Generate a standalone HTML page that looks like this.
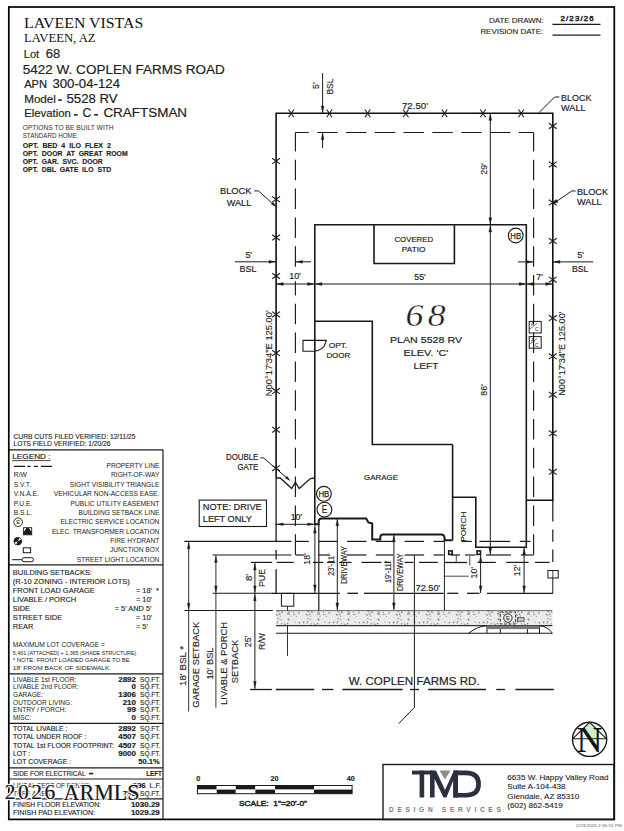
<!DOCTYPE html>
<html><head><meta charset="utf-8"><style>
html,body{margin:0;padding:0;background:#fff;}
#c{position:relative;width:624px;height:831px;overflow:hidden;background:#fff;}
svg{position:absolute;left:0;top:0;}
</style></head><body><div id="c">
<svg width="624" height="831" viewBox="0 0 624 831">
<defs><pattern id="stip" width="30" height="15" patternUnits="userSpaceOnUse">
<rect width="30" height="15" fill="#ececec"/>
<circle cx="7.1" cy="8.2" r="0.7" fill="#aaa"/>
<circle cx="14.2" cy="8.7" r="0.5" fill="#999"/>
<circle cx="7.8" cy="3.5" r="0.8" fill="#aaa"/>
<circle cx="25.1" cy="7.1" r="0.6" fill="#777"/>
<circle cx="19.0" cy="13.0" r="0.8" fill="#666"/>
<circle cx="20.1" cy="1.0" r="0.5" fill="#888"/>
<circle cx="23.4" cy="12.4" r="0.7" fill="#999"/>
<circle cx="17.8" cy="13.8" r="0.8" fill="#999"/>
<circle cx="11.8" cy="12.0" r="0.8" fill="#777"/>
<circle cx="26.4" cy="1.5" r="0.6" fill="#999"/>
<circle cx="6.5" cy="14.5" r="0.8" fill="#888"/>
<circle cx="12.6" cy="12.5" r="0.7" fill="#aaa"/>
<circle cx="17.6" cy="8.8" r="0.7" fill="#666"/>
<circle cx="25.7" cy="14.9" r="0.6" fill="#888"/>
<circle cx="28.9" cy="13.6" r="0.5" fill="#777"/>
<circle cx="19.0" cy="14.8" r="0.7" fill="#888"/>
<circle cx="3.7" cy="7.2" r="0.8" fill="#666"/>
<circle cx="10.3" cy="1.0" r="0.6" fill="#666"/>
<circle cx="8.8" cy="11.5" r="0.5" fill="#666"/>
<circle cx="18.1" cy="11.4" r="0.8" fill="#aaa"/>
<circle cx="9.9" cy="13.2" r="0.7" fill="#aaa"/>
<circle cx="7.1" cy="0.5" r="0.5" fill="#666"/>
<circle cx="3.2" cy="8.0" r="0.6" fill="#999"/>
<circle cx="8.7" cy="4.0" r="0.5" fill="#888"/>
<circle cx="9.4" cy="14.4" r="0.8" fill="#999"/>
<circle cx="13.8" cy="7.8" r="0.5" fill="#aaa"/>
<circle cx="29.2" cy="12.2" r="0.7" fill="#999"/>
<circle cx="19.0" cy="10.7" r="0.7" fill="#999"/>
<circle cx="29.3" cy="7.8" r="0.7" fill="#666"/>
<circle cx="23.7" cy="14.8" r="0.7" fill="#666"/>
<circle cx="11.3" cy="8.8" r="0.6" fill="#666"/>
<circle cx="19.0" cy="5.0" r="0.7" fill="#888"/>
<circle cx="18.3" cy="4.2" r="0.8" fill="#666"/>
<circle cx="17.7" cy="14.3" r="0.5" fill="#888"/>
<circle cx="7.5" cy="6.8" r="0.7" fill="#777"/>
<circle cx="10.9" cy="4.7" r="0.7" fill="#aaa"/>
<circle cx="7.9" cy="11.8" r="0.5" fill="#666"/>
<circle cx="29.1" cy="10.3" r="0.6" fill="#888"/>
<circle cx="15.0" cy="9.8" r="0.7" fill="#777"/>
<circle cx="9.8" cy="10.2" r="0.5" fill="#666"/></pattern></defs>
<rect x="8.8" y="7.0" width="605.5" height="812.4" stroke="#000" stroke-width="1.7" fill="none"/>
<text x="24.0" y="27.8" font-family="Liberation Serif" font-size="14.4" font-weight="normal" font-style="normal" text-anchor="start" fill="#111" style="white-space:pre" textLength="119.3" lengthAdjust="spacingAndGlyphs">LAVEEN VISTAS</text>
<text x="24.0" y="42.4" font-family="Liberation Serif" font-size="11.8" font-weight="normal" font-style="normal" text-anchor="start" fill="#111" style="white-space:pre" textLength="71.6" lengthAdjust="spacingAndGlyphs">LAVEEN, AZ</text>
<text x="23.8" y="58.0" font-family="Liberation Sans" font-size="11.2" font-weight="normal" font-style="normal" text-anchor="start" fill="#222" style="white-space:pre" textLength="15.3" lengthAdjust="spacingAndGlyphs" stroke="#222" stroke-width="0.18">Lot</text>
<text x="45.8" y="58.0" font-family="Liberation Sans" font-size="12.9" font-weight="normal" font-style="normal" text-anchor="start" fill="#222" style="white-space:pre" textLength="14.4" lengthAdjust="spacingAndGlyphs" stroke="#222" stroke-width="0.18">68</text>
<text x="22.8" y="73.7" font-family="Liberation Sans" font-size="13.4" font-weight="normal" font-style="normal" text-anchor="start" fill="#222" style="white-space:pre" textLength="202" lengthAdjust="spacingAndGlyphs" stroke="#222" stroke-width="0.18">5422 W. COPLEN FARMS ROAD</text>
<text x="24.2" y="87.7" font-family="Liberation Sans" font-size="10.8" font-weight="normal" font-style="normal" text-anchor="start" fill="#222" style="white-space:pre" textLength="22.9" lengthAdjust="spacingAndGlyphs" stroke="#222" stroke-width="0.18">APN</text>
<text x="52.4" y="87.7" font-family="Liberation Sans" font-size="13.0" font-weight="normal" font-style="normal" text-anchor="start" fill="#222" style="white-space:pre" textLength="67.6" lengthAdjust="spacingAndGlyphs" stroke="#222" stroke-width="0.18">300-04-124</text>
<text x="24.2" y="102.7" font-family="Liberation Sans" font-size="11.2" font-weight="normal" font-style="normal" text-anchor="start" fill="#222" style="white-space:pre" textLength="31.7" lengthAdjust="spacingAndGlyphs" stroke="#222" stroke-width="0.18">Model</text>
<rect x="58.2" y="99.3" width="3.5" height="1.6" stroke="#1a1a1a" stroke-width="0" fill="#222"/>
<text x="66.5" y="102.7" font-family="Liberation Sans" font-size="13.0" font-weight="normal" font-style="normal" text-anchor="start" fill="#222" style="white-space:pre" textLength="51.1" lengthAdjust="spacingAndGlyphs" stroke="#222" stroke-width="0.18">5528 RV</text>
<text x="24.2" y="117.3" font-family="Liberation Sans" font-size="11.2" font-weight="normal" font-style="normal" text-anchor="start" fill="#222" style="white-space:pre" textLength="46.7" lengthAdjust="spacingAndGlyphs" stroke="#222" stroke-width="0.18">Elevation</text>
<rect x="74.0" y="114.0" width="3.6" height="1.6" stroke="#1a1a1a" stroke-width="0" fill="#222"/>
<text x="82.4" y="117.3" font-family="Liberation Sans" font-size="13.0" font-weight="normal" font-style="normal" text-anchor="start" fill="#222" style="white-space:pre" textLength="8.8" lengthAdjust="spacingAndGlyphs" stroke="#222" stroke-width="0.18">C</text>
<rect x="94.2" y="114.0" width="3.8" height="1.6" stroke="#1a1a1a" stroke-width="0" fill="#222"/>
<text x="103.4" y="117.3" font-family="Liberation Sans" font-size="13.0" font-weight="normal" font-style="normal" text-anchor="start" fill="#222" style="white-space:pre" textLength="83.7" lengthAdjust="spacingAndGlyphs" stroke="#222" stroke-width="0.18">CRAFTSMAN</text>
<text x="22.7" y="130.0" font-family="Liberation Sans" font-size="6.4" font-weight="normal" font-style="normal" text-anchor="start" fill="#333" style="white-space:pre" textLength="91" lengthAdjust="spacingAndGlyphs">OPTIONS TO BE BUILT WITH</text>
<text x="22.7" y="138.0" font-family="Liberation Sans" font-size="6.4" font-weight="normal" font-style="normal" text-anchor="start" fill="#333" style="white-space:pre" textLength="56" lengthAdjust="spacingAndGlyphs">STANDARD HOME:</text>
<text x="22.7" y="148.0" font-family="Liberation Sans" font-size="7.0" font-weight="bold" font-style="normal" text-anchor="start" fill="#222" style="white-space:pre" textLength="88.3" lengthAdjust="spacingAndGlyphs" stroke="#222" stroke-width="0.12">OPT.  BED  4  ILO  FLEX  2</text>
<text x="22.7" y="156.0" font-family="Liberation Sans" font-size="7.0" font-weight="bold" font-style="normal" text-anchor="start" fill="#222" style="white-space:pre" textLength="105" lengthAdjust="spacingAndGlyphs" stroke="#222" stroke-width="0.12">OPT.  DOOR  AT  GREAT  ROOM</text>
<text x="22.7" y="164.0" font-family="Liberation Sans" font-size="7.0" font-weight="bold" font-style="normal" text-anchor="start" fill="#222" style="white-space:pre" textLength="80" lengthAdjust="spacingAndGlyphs" stroke="#222" stroke-width="0.12">OPT.  GAR.  SVC.  DOOR</text>
<text x="22.7" y="172.0" font-family="Liberation Sans" font-size="7.0" font-weight="bold" font-style="normal" text-anchor="start" fill="#222" style="white-space:pre" textLength="88.5" lengthAdjust="spacingAndGlyphs" stroke="#222" stroke-width="0.12">OPT.  DBL  GATE  ILO  STD</text>
<text x="543.8" y="23.2" font-family="Liberation Sans" font-size="7.6" font-weight="normal" font-style="normal" text-anchor="end" fill="#222" style="white-space:pre" textLength="54.8" lengthAdjust="spacingAndGlyphs" stroke="#222" stroke-width="0.12">DATE DRAWN:</text>
<text x="543.2" y="34.0" font-family="Liberation Sans" font-size="7.6" font-weight="normal" font-style="normal" text-anchor="end" fill="#222" style="white-space:pre" textLength="62.8" lengthAdjust="spacingAndGlyphs" stroke="#222" stroke-width="0.12">REVISION DATE:</text>
<text x="560.5" y="21.4" font-family="Liberation Sans" font-size="7.8" font-weight="normal" font-style="normal" text-anchor="start" fill="#222" style="white-space:pre" textLength="33.1" lengthAdjust="spacing" stroke="#222" stroke-width="0.5">2/23/26</text>
<line x1="552.5" y1="24.3" x2="600.5" y2="24.3" stroke="#1a1a1a" stroke-width="1.3" stroke-linecap="butt"/>
<line x1="552.5" y1="35.1" x2="600.5" y2="35.1" stroke="#1a1a1a" stroke-width="1.3" stroke-linecap="butt"/>
<polyline points="276.1,478.0 276.1,113.2 552.8,113.2 552.8,500.3 526.3,500.3" stroke="#111" stroke-width="1.6" fill="none" stroke-linejoin="miter"/>
<line x1="276.1" y1="478.0" x2="276.1" y2="541.2" stroke="#1a1a1a" stroke-width="1.3" stroke-linecap="butt"/>
<line x1="276.1" y1="550.0" x2="276.1" y2="559.6" stroke="#1a1a1a" stroke-width="1.3" stroke-linecap="butt"/>
<line x1="276.1" y1="569.2" x2="276.1" y2="593.3" stroke="#1a1a1a" stroke-width="1.3" stroke-linecap="butt"/>
<line x1="552.8" y1="500.3" x2="552.8" y2="521.6" stroke="#1a1a1a" stroke-width="1.2" stroke-linecap="butt"/>
<line x1="552.8" y1="529.5" x2="552.8" y2="541.8" stroke="#1a1a1a" stroke-width="1.2" stroke-linecap="butt"/>
<line x1="552.8" y1="549.6" x2="552.8" y2="562.0" stroke="#1a1a1a" stroke-width="1.2" stroke-linecap="butt"/>
<line x1="288.5" y1="109.5" x2="293.9" y2="117.3" stroke="#1a1a1a" stroke-width="1.1" stroke-linecap="butt"/>
<line x1="288.5" y1="117.3" x2="293.9" y2="109.5" stroke="#1a1a1a" stroke-width="1.1" stroke-linecap="butt"/>
<line x1="326.7" y1="109.5" x2="332.1" y2="117.3" stroke="#1a1a1a" stroke-width="1.1" stroke-linecap="butt"/>
<line x1="326.7" y1="117.3" x2="332.1" y2="109.5" stroke="#1a1a1a" stroke-width="1.1" stroke-linecap="butt"/>
<line x1="364.9" y1="109.5" x2="370.3" y2="117.3" stroke="#1a1a1a" stroke-width="1.1" stroke-linecap="butt"/>
<line x1="364.9" y1="117.3" x2="370.3" y2="109.5" stroke="#1a1a1a" stroke-width="1.1" stroke-linecap="butt"/>
<line x1="403.1" y1="109.5" x2="408.5" y2="117.3" stroke="#1a1a1a" stroke-width="1.1" stroke-linecap="butt"/>
<line x1="403.1" y1="117.3" x2="408.5" y2="109.5" stroke="#1a1a1a" stroke-width="1.1" stroke-linecap="butt"/>
<line x1="441.8" y1="109.5" x2="447.2" y2="117.3" stroke="#1a1a1a" stroke-width="1.1" stroke-linecap="butt"/>
<line x1="441.8" y1="117.3" x2="447.2" y2="109.5" stroke="#1a1a1a" stroke-width="1.1" stroke-linecap="butt"/>
<line x1="480.3" y1="109.5" x2="485.7" y2="117.3" stroke="#1a1a1a" stroke-width="1.1" stroke-linecap="butt"/>
<line x1="480.3" y1="117.3" x2="485.7" y2="109.5" stroke="#1a1a1a" stroke-width="1.1" stroke-linecap="butt"/>
<line x1="518.5" y1="109.5" x2="523.9" y2="117.3" stroke="#1a1a1a" stroke-width="1.1" stroke-linecap="butt"/>
<line x1="518.5" y1="117.3" x2="523.9" y2="109.5" stroke="#1a1a1a" stroke-width="1.1" stroke-linecap="butt"/>
<line x1="272.2" y1="158.3" x2="280.0" y2="163.9" stroke="#1a1a1a" stroke-width="1.1" stroke-linecap="butt"/>
<line x1="272.2" y1="163.9" x2="280.0" y2="158.3" stroke="#1a1a1a" stroke-width="1.1" stroke-linecap="butt"/>
<line x1="272.2" y1="196.5" x2="280.0" y2="202.1" stroke="#1a1a1a" stroke-width="1.1" stroke-linecap="butt"/>
<line x1="272.2" y1="202.1" x2="280.0" y2="196.5" stroke="#1a1a1a" stroke-width="1.1" stroke-linecap="butt"/>
<line x1="272.2" y1="234.7" x2="280.0" y2="240.3" stroke="#1a1a1a" stroke-width="1.1" stroke-linecap="butt"/>
<line x1="272.2" y1="240.3" x2="280.0" y2="234.7" stroke="#1a1a1a" stroke-width="1.1" stroke-linecap="butt"/>
<line x1="272.2" y1="273.2" x2="280.0" y2="278.8" stroke="#1a1a1a" stroke-width="1.1" stroke-linecap="butt"/>
<line x1="272.2" y1="278.8" x2="280.0" y2="273.2" stroke="#1a1a1a" stroke-width="1.1" stroke-linecap="butt"/>
<line x1="272.2" y1="311.6" x2="280.0" y2="317.2" stroke="#1a1a1a" stroke-width="1.1" stroke-linecap="butt"/>
<line x1="272.2" y1="317.2" x2="280.0" y2="311.6" stroke="#1a1a1a" stroke-width="1.1" stroke-linecap="butt"/>
<line x1="272.2" y1="350.3" x2="280.0" y2="355.9" stroke="#1a1a1a" stroke-width="1.1" stroke-linecap="butt"/>
<line x1="272.2" y1="355.9" x2="280.0" y2="350.3" stroke="#1a1a1a" stroke-width="1.1" stroke-linecap="butt"/>
<line x1="272.2" y1="388.3" x2="280.0" y2="393.9" stroke="#1a1a1a" stroke-width="1.1" stroke-linecap="butt"/>
<line x1="272.2" y1="393.9" x2="280.0" y2="388.3" stroke="#1a1a1a" stroke-width="1.1" stroke-linecap="butt"/>
<line x1="272.2" y1="426.9" x2="280.0" y2="432.5" stroke="#1a1a1a" stroke-width="1.1" stroke-linecap="butt"/>
<line x1="272.2" y1="432.5" x2="280.0" y2="426.9" stroke="#1a1a1a" stroke-width="1.1" stroke-linecap="butt"/>
<line x1="272.2" y1="465.4" x2="280.0" y2="471.0" stroke="#1a1a1a" stroke-width="1.1" stroke-linecap="butt"/>
<line x1="272.2" y1="471.0" x2="280.0" y2="465.4" stroke="#1a1a1a" stroke-width="1.1" stroke-linecap="butt"/>
<line x1="548.9" y1="123.2" x2="556.7" y2="128.8" stroke="#1a1a1a" stroke-width="1.1" stroke-linecap="butt"/>
<line x1="548.9" y1="128.8" x2="556.7" y2="123.2" stroke="#1a1a1a" stroke-width="1.1" stroke-linecap="butt"/>
<line x1="548.9" y1="161.6" x2="556.7" y2="167.2" stroke="#1a1a1a" stroke-width="1.1" stroke-linecap="butt"/>
<line x1="548.9" y1="167.2" x2="556.7" y2="161.6" stroke="#1a1a1a" stroke-width="1.1" stroke-linecap="butt"/>
<line x1="548.9" y1="199.8" x2="556.7" y2="205.4" stroke="#1a1a1a" stroke-width="1.1" stroke-linecap="butt"/>
<line x1="548.9" y1="205.4" x2="556.7" y2="199.8" stroke="#1a1a1a" stroke-width="1.1" stroke-linecap="butt"/>
<line x1="548.9" y1="238.3" x2="556.7" y2="243.9" stroke="#1a1a1a" stroke-width="1.1" stroke-linecap="butt"/>
<line x1="548.9" y1="243.9" x2="556.7" y2="238.3" stroke="#1a1a1a" stroke-width="1.1" stroke-linecap="butt"/>
<line x1="548.9" y1="276.9" x2="556.7" y2="282.5" stroke="#1a1a1a" stroke-width="1.1" stroke-linecap="butt"/>
<line x1="548.9" y1="282.5" x2="556.7" y2="276.9" stroke="#1a1a1a" stroke-width="1.1" stroke-linecap="butt"/>
<line x1="548.9" y1="315.3" x2="556.7" y2="320.9" stroke="#1a1a1a" stroke-width="1.1" stroke-linecap="butt"/>
<line x1="548.9" y1="320.9" x2="556.7" y2="315.3" stroke="#1a1a1a" stroke-width="1.1" stroke-linecap="butt"/>
<line x1="548.9" y1="353.5" x2="556.7" y2="359.1" stroke="#1a1a1a" stroke-width="1.1" stroke-linecap="butt"/>
<line x1="548.9" y1="359.1" x2="556.7" y2="353.5" stroke="#1a1a1a" stroke-width="1.1" stroke-linecap="butt"/>
<line x1="548.9" y1="391.9" x2="556.7" y2="397.5" stroke="#1a1a1a" stroke-width="1.1" stroke-linecap="butt"/>
<line x1="548.9" y1="397.5" x2="556.7" y2="391.9" stroke="#1a1a1a" stroke-width="1.1" stroke-linecap="butt"/>
<line x1="548.9" y1="430.5" x2="556.7" y2="436.1" stroke="#1a1a1a" stroke-width="1.1" stroke-linecap="butt"/>
<line x1="548.9" y1="436.1" x2="556.7" y2="430.5" stroke="#1a1a1a" stroke-width="1.1" stroke-linecap="butt"/>
<line x1="548.9" y1="469.0" x2="556.7" y2="474.6" stroke="#1a1a1a" stroke-width="1.1" stroke-linecap="butt"/>
<line x1="548.9" y1="474.6" x2="556.7" y2="469.0" stroke="#1a1a1a" stroke-width="1.1" stroke-linecap="butt"/>
<line x1="295.4" y1="132.5" x2="295.4" y2="555.0" stroke="#1a1a1a" stroke-width="1.15" stroke-dasharray="20.5,8.3" stroke-dashoffset="1.5"/>
<line x1="533.6" y1="132.5" x2="533.6" y2="555.0" stroke="#1a1a1a" stroke-width="1.15" stroke-dasharray="20.5,8.3" stroke-dashoffset="1.5"/>
<line x1="295.4" y1="132.5" x2="533.6" y2="132.5" stroke="#1a1a1a" stroke-width="1.15" stroke-dasharray="20.5,8.3" stroke-dashoffset="7.1"/>
<polyline points="314.8,524.2 314.8,224.8 526.3,224.8 526.3,547.2 475.8,547.2 475.8,497.3 452.6,497.3" stroke="#1a1a1a" stroke-width="1.6" fill="none" stroke-linejoin="miter"/>
<line x1="452.6" y1="444.5" x2="452.6" y2="540.3" stroke="#1a1a1a" stroke-width="1.6" stroke-linecap="butt"/>
<polyline points="314.8,321.2 372.3,321.2 372.3,444.5 452.6,444.5" stroke="#1a1a1a" stroke-width="1.6" fill="none" stroke-linejoin="miter"/>
<polyline points="374.0,224.8 374.0,263.5 454.4,263.5 454.4,224.8" stroke="#1a1a1a" stroke-width="1.6" fill="none" stroke-linejoin="miter"/>
<path d="M314.8,524.2 L318.7,524.2 L318.7,521 Q318.9,518.6 321.5,518.5 L366.2,518.5 L368.4,522.4 L372.2,523.6 L372.2,539.4 L380.3,539.4 L380.3,537 Q380.6,534.6 383,534.6 L441.5,534.6 Q444.3,534.8 444.6,538 L444.6,540.3 L452.6,540.3" stroke="#1a1a1a" stroke-width="2.0" fill="none"/>
<path d="M314.8,340.4 L303.0,340.4 L303.0,351.2 L314.8,351.2 M314.8,340.4 L326.4,340.4 L324.2,346 Q321.5,350.2 314.8,351.2" stroke="#1a1a1a" stroke-width="1.1" fill="none"/>
<text transform="translate(405.6 326) scale(1.14 1)" x="0" y="0" font-family="Liberation Serif" font-style="italic" font-size="31.5" fill="#1a1a1a" stroke="#fff" stroke-width="0.35" letter-spacing="3.6">68</text>
<text x="426.0" y="343.4" font-family="Liberation Sans" font-size="9.7" font-weight="normal" font-style="normal" text-anchor="middle" fill="#222" style="white-space:pre" textLength="72" lengthAdjust="spacingAndGlyphs" stroke="#222" stroke-width="0.18">PLAN 5528 RV</text>
<text x="426.0" y="356.2" font-family="Liberation Sans" font-size="9.7" font-weight="normal" font-style="normal" text-anchor="middle" fill="#222" style="white-space:pre" textLength="44.8" lengthAdjust="spacingAndGlyphs" stroke="#222" stroke-width="0.18">ELEV. 'C'</text>
<text x="426.0" y="369.0" font-family="Liberation Sans" font-size="9.7" font-weight="normal" font-style="normal" text-anchor="middle" fill="#222" style="white-space:pre" textLength="25" lengthAdjust="spacingAndGlyphs" stroke="#222" stroke-width="0.18">LEFT</text>
<text x="413.8" y="241.7" font-family="Liberation Sans" font-size="7.8" font-weight="normal" font-style="normal" text-anchor="middle" fill="#222" style="white-space:pre" textLength="38.7" lengthAdjust="spacingAndGlyphs" stroke="#222" stroke-width="0.18">COVERED</text>
<text x="413.7" y="251.8" font-family="Liberation Sans" font-size="7.8" font-weight="normal" font-style="normal" text-anchor="middle" fill="#222" style="white-space:pre" textLength="23.7" lengthAdjust="spacingAndGlyphs" stroke="#222" stroke-width="0.18">PATIO</text>
<text x="381.0" y="479.5" font-family="Liberation Sans" font-size="7.9" font-weight="normal" font-style="normal" text-anchor="middle" fill="#222" style="white-space:pre" textLength="33.9" lengthAdjust="spacingAndGlyphs" stroke="#222" stroke-width="0.18">GARAGE</text>
<text x="328.8" y="347.6" font-family="Liberation Sans" font-size="7.8" font-weight="normal" font-style="normal" text-anchor="start" fill="#222" style="white-space:pre" textLength="18.5" lengthAdjust="spacingAndGlyphs" stroke="#222" stroke-width="0.18">OPT.</text>
<text x="326.4" y="357.6" font-family="Liberation Sans" font-size="7.8" font-weight="normal" font-style="normal" text-anchor="start" fill="#222" style="white-space:pre" textLength="23.8" lengthAdjust="spacingAndGlyphs" stroke="#222" stroke-width="0.18">DOOR</text>
<text x="466.0" y="526.6" font-family="Liberation Sans" font-size="7.6" font-weight="normal" font-style="normal" text-anchor="middle" fill="#222" style="white-space:pre" transform="rotate(-90 466.0 526.6)" textLength="30.3" lengthAdjust="spacingAndGlyphs" stroke="#222" stroke-width="0.12">PORCH</text>
<circle cx="515.7" cy="235.5" r="7.4" stroke="#1a1a1a" stroke-width="1.1" fill="none"/>
<text x="515.7" y="238.8" font-family="Liberation Sans" font-size="9.0" font-weight="normal" font-style="normal" text-anchor="middle" fill="#222" style="white-space:pre" textLength="10.8" lengthAdjust="spacingAndGlyphs" stroke="#222" stroke-width="0.25">HB</text>
<circle cx="323.9" cy="493.8" r="7.4" stroke="#1a1a1a" stroke-width="1.1" fill="none"/>
<text x="323.9" y="497.1" font-family="Liberation Sans" font-size="9.0" font-weight="normal" font-style="normal" text-anchor="middle" fill="#222" style="white-space:pre" textLength="10.8" lengthAdjust="spacingAndGlyphs" stroke="#222" stroke-width="0.25">HB</text>
<circle cx="324.4" cy="509.7" r="7.4" stroke="#1a1a1a" stroke-width="1.1" fill="none"/>
<text x="324.4" y="513.4" font-family="Liberation Sans" font-size="10.0" font-weight="normal" font-style="normal" text-anchor="middle" fill="#222" style="white-space:pre" textLength="5.5" lengthAdjust="spacingAndGlyphs" stroke="#222" stroke-width="0.18">E</text>
<rect x="529.2" y="321.4" width="12.0" height="11.6" stroke="#1a1a1a" stroke-width="1.0" fill="none"/>
<text x="531.0" y="326.4" font-family="Liberation Sans" font-size="4.5" font-weight="normal" font-style="normal" text-anchor="start" fill="#222" style="white-space:pre" textLength="3" lengthAdjust="spacingAndGlyphs">A</text>
<text x="535.0" y="331.4" font-family="Liberation Sans" font-size="5" font-weight="normal" font-style="normal" text-anchor="start" fill="#222" style="white-space:pre" textLength="3.5" lengthAdjust="spacingAndGlyphs">C</text>
<line x1="530.0" y1="328.9" x2="537.0" y2="323.4" stroke="#1a1a1a" stroke-width="0.6" stroke-linecap="butt"/>
<rect x="529.2" y="336.6" width="12.0" height="11.6" stroke="#1a1a1a" stroke-width="1.0" fill="none"/>
<text x="531.0" y="341.6" font-family="Liberation Sans" font-size="4.5" font-weight="normal" font-style="normal" text-anchor="start" fill="#222" style="white-space:pre" textLength="3" lengthAdjust="spacingAndGlyphs">A</text>
<text x="535.0" y="346.6" font-family="Liberation Sans" font-size="5" font-weight="normal" font-style="normal" text-anchor="start" fill="#222" style="white-space:pre" textLength="3.5" lengthAdjust="spacingAndGlyphs">C</text>
<line x1="530.0" y1="344.1" x2="537.0" y2="338.6" stroke="#1a1a1a" stroke-width="0.6" stroke-linecap="butt"/>
<text x="402.0" y="109.2" font-family="Liberation Sans" font-size="9.6" font-weight="normal" font-style="normal" text-anchor="start" fill="#222" style="white-space:pre" textLength="26" lengthAdjust="spacingAndGlyphs" stroke="#222" stroke-width="0.18">72.50'</text>
<line x1="322.6" y1="73.0" x2="322.6" y2="113.2" stroke="#1a1a1a" stroke-width="1.0" stroke-linecap="butt"/>
<polygon points="322.6,112.1 321.2,106.1 324.0,106.1" fill="#1a1a1a" stroke="#1a1a1a" stroke-width="0.4"/>
<line x1="322.6" y1="132.5" x2="322.6" y2="148.0" stroke="#1a1a1a" stroke-width="1.0" stroke-linecap="butt"/>
<polygon points="322.6,133.6 321.2,139.6 324.0,139.6" fill="#1a1a1a" stroke="#1a1a1a" stroke-width="0.4"/>
<text x="319.3" y="85.6" font-family="Liberation Sans" font-size="8.8" font-weight="normal" font-style="normal" text-anchor="middle" fill="#222" style="white-space:pre" transform="rotate(-90 319.3 85.6)" stroke="#222" stroke-width="0.12">5'</text>
<text x="332.8" y="86.5" font-family="Liberation Sans" font-size="8.8" font-weight="normal" font-style="normal" text-anchor="middle" fill="#222" style="white-space:pre" transform="rotate(-90 332.8 86.5)" textLength="16.2" lengthAdjust="spacingAndGlyphs" stroke="#222" stroke-width="0.12">BSL</text>
<line x1="490.3" y1="113.2" x2="490.3" y2="224.8" stroke="#1a1a1a" stroke-width="1.0" stroke-linecap="butt"/>
<polygon points="490.3,114.3 488.9,120.3 491.7,120.3" fill="#1a1a1a" stroke="#1a1a1a" stroke-width="0.4"/>
<polygon points="490.3,223.7 488.9,217.7 491.7,217.7" fill="#1a1a1a" stroke="#1a1a1a" stroke-width="0.4"/>
<text x="487.0" y="169.0" font-family="Liberation Sans" font-size="8.8" font-weight="normal" font-style="normal" text-anchor="middle" fill="#222" style="white-space:pre" transform="rotate(-90 487.0 169.0)" textLength="11.5" lengthAdjust="spacingAndGlyphs" stroke="#222" stroke-width="0.12">29'</text>
<line x1="490.3" y1="224.8" x2="490.3" y2="554.8" stroke="#1a1a1a" stroke-width="1.0" stroke-linecap="butt"/>
<polygon points="490.3,225.9 488.9,231.9 491.7,231.9" fill="#1a1a1a" stroke="#1a1a1a" stroke-width="0.4"/>
<polygon points="490.3,553.7 488.9,547.7 491.7,547.7" fill="#1a1a1a" stroke="#1a1a1a" stroke-width="0.4"/>
<text x="487.0" y="390.0" font-family="Liberation Sans" font-size="8.8" font-weight="normal" font-style="normal" text-anchor="middle" fill="#222" style="white-space:pre" transform="rotate(-90 487.0 390.0)" textLength="11.5" lengthAdjust="spacingAndGlyphs" stroke="#222" stroke-width="0.12">86'</text>
<line x1="235.0" y1="261.8" x2="276.1" y2="261.8" stroke="#1a1a1a" stroke-width="1.0" stroke-linecap="butt"/>
<polygon points="275.0,261.8 269.0,260.4 269.0,263.2" fill="#1a1a1a" stroke="#1a1a1a" stroke-width="0.4"/>
<text x="248.7" y="257.6" font-family="Liberation Sans" font-size="8.8" font-weight="normal" font-style="normal" text-anchor="middle" fill="#222" style="white-space:pre" stroke="#222" stroke-width="0.18">5'</text>
<text x="248.0" y="272.4" font-family="Liberation Sans" font-size="8.8" font-weight="normal" font-style="normal" text-anchor="middle" fill="#222" style="white-space:pre" textLength="16.9" lengthAdjust="spacingAndGlyphs" stroke="#222" stroke-width="0.18">BSL</text>
<line x1="295.4" y1="261.8" x2="311.0" y2="261.8" stroke="#1a1a1a" stroke-width="1.0" stroke-linecap="butt"/>
<polygon points="296.5,261.8 302.5,260.4 302.5,263.2" fill="#1a1a1a" stroke="#1a1a1a" stroke-width="0.4"/>
<line x1="552.8" y1="261.9" x2="593.2" y2="261.9" stroke="#1a1a1a" stroke-width="1.0" stroke-linecap="butt"/>
<polygon points="553.9,261.9 559.9,260.5 559.9,263.2" fill="#1a1a1a" stroke="#1a1a1a" stroke-width="0.4"/>
<text x="580.5" y="257.7" font-family="Liberation Sans" font-size="8.8" font-weight="normal" font-style="normal" text-anchor="middle" fill="#222" style="white-space:pre" stroke="#222" stroke-width="0.18">5'</text>
<text x="580.2" y="272.0" font-family="Liberation Sans" font-size="8.8" font-weight="normal" font-style="normal" text-anchor="middle" fill="#222" style="white-space:pre" textLength="16.5" lengthAdjust="spacingAndGlyphs" stroke="#222" stroke-width="0.18">BSL</text>
<line x1="518.0" y1="261.9" x2="533.6" y2="261.9" stroke="#1a1a1a" stroke-width="1.0" stroke-linecap="butt"/>
<polygon points="532.5,261.9 526.5,260.5 526.5,263.2" fill="#1a1a1a" stroke="#1a1a1a" stroke-width="0.4"/>
<line x1="276.1" y1="284.0" x2="552.8" y2="284.0" stroke="#1a1a1a" stroke-width="1.0" stroke-linecap="butt"/>
<polygon points="277.2,284.0 283.2,282.6 283.2,285.4" fill="#1a1a1a" stroke="#1a1a1a" stroke-width="0.4"/>
<polygon points="313.7,284.0 307.7,282.6 307.7,285.4" fill="#1a1a1a" stroke="#1a1a1a" stroke-width="0.4"/>
<polygon points="315.9,284.0 321.9,282.6 321.9,285.4" fill="#1a1a1a" stroke="#1a1a1a" stroke-width="0.4"/>
<polygon points="525.2,284.0 519.2,282.6 519.2,285.4" fill="#1a1a1a" stroke="#1a1a1a" stroke-width="0.4"/>
<polygon points="527.4,284.0 533.4,282.6 533.4,285.4" fill="#1a1a1a" stroke="#1a1a1a" stroke-width="0.4"/>
<polygon points="551.7,284.0 545.7,282.6 545.7,285.4" fill="#1a1a1a" stroke="#1a1a1a" stroke-width="0.4"/>
<rect x="289" y="271.5" width="12.5" height="9.8" fill="#fff"/>
<text x="295.0" y="278.7" font-family="Liberation Sans" font-size="8.8" font-weight="normal" font-style="normal" text-anchor="middle" fill="#222" style="white-space:pre" textLength="11.5" lengthAdjust="spacingAndGlyphs" stroke="#222" stroke-width="0.18">10'</text>
<text x="420.0" y="279.9" font-family="Liberation Sans" font-size="8.8" font-weight="normal" font-style="normal" text-anchor="middle" fill="#222" style="white-space:pre" textLength="11.5" lengthAdjust="spacingAndGlyphs" stroke="#222" stroke-width="0.18">55'</text>
<text x="539.6" y="279.7" font-family="Liberation Sans" font-size="8.8" font-weight="normal" font-style="normal" text-anchor="middle" fill="#222" style="white-space:pre" stroke="#222" stroke-width="0.18">7'</text>
<text x="271.8" y="353.2" font-family="Liberation Sans" font-size="9.2" font-weight="normal" font-style="normal" text-anchor="middle" fill="#222" style="white-space:pre" transform="rotate(-90 271.8 353.2)" textLength="86" lengthAdjust="spacingAndGlyphs" stroke="#222" stroke-width="0.12">N00°17'34"E 125.00'</text>
<text x="565.2" y="353.6" font-family="Liberation Sans" font-size="9.2" font-weight="normal" font-style="normal" text-anchor="middle" fill="#222" style="white-space:pre" transform="rotate(-90 565.2 353.6)" textLength="84.3" lengthAdjust="spacingAndGlyphs" stroke="#222" stroke-width="0.12">N00°17'34"E 125.00'</text>
<text x="251.3" y="194.1" font-family="Liberation Sans" font-size="8.8" font-weight="normal" font-style="normal" text-anchor="end" fill="#222" style="white-space:pre" textLength="31.3" lengthAdjust="spacingAndGlyphs" stroke="#222" stroke-width="0.18">BLOCK</text>
<text x="251.3" y="205.6" font-family="Liberation Sans" font-size="8.8" font-weight="normal" font-style="normal" text-anchor="end" fill="#222" style="white-space:pre" textLength="24.6" lengthAdjust="spacingAndGlyphs" stroke="#222" stroke-width="0.18">WALL</text>
<polyline points="254.2,190.9 258.5,190.9 275.4,206.2" stroke="#1a1a1a" stroke-width="1.0" fill="none" stroke-linejoin="miter"/>
<polygon points="275.6,206.3 271.3,204.3 273.2,202.2" fill="#1a1a1a" stroke="#1a1a1a" stroke-width="0.4"/>
<text x="561.0" y="100.5" font-family="Liberation Sans" font-size="8.8" font-weight="normal" font-style="normal" text-anchor="start" fill="#222" style="white-space:pre" textLength="30.4" lengthAdjust="spacingAndGlyphs" stroke="#222" stroke-width="0.18">BLOCK</text>
<text x="561.0" y="111.2" font-family="Liberation Sans" font-size="8.8" font-weight="normal" font-style="normal" text-anchor="start" fill="#222" style="white-space:pre" textLength="24.6" lengthAdjust="spacingAndGlyphs" stroke="#222" stroke-width="0.18">WALL</text>
<polyline points="559.3,97.0 554.6,97.0 539.0,112.6" stroke="#1a1a1a" stroke-width="1.0" fill="none" stroke-linejoin="miter"/>
<text x="577.0" y="194.8" font-family="Liberation Sans" font-size="8.8" font-weight="normal" font-style="normal" text-anchor="start" fill="#222" style="white-space:pre" textLength="31" lengthAdjust="spacingAndGlyphs" stroke="#222" stroke-width="0.18">BLOCK</text>
<text x="577.0" y="205.4" font-family="Liberation Sans" font-size="8.8" font-weight="normal" font-style="normal" text-anchor="start" fill="#222" style="white-space:pre" textLength="24.6" lengthAdjust="spacingAndGlyphs" stroke="#222" stroke-width="0.18">WALL</text>
<polyline points="575.6,191.0 571.7,191.0 553.5,203.5" stroke="#1a1a1a" stroke-width="1.0" fill="none" stroke-linejoin="miter"/>
<polygon points="553.5,203.6 556.4,199.9 558.0,202.2" fill="#1a1a1a" stroke="#1a1a1a" stroke-width="0.4"/>
<text x="258.3" y="460.4" font-family="Liberation Sans" font-size="8.6" font-weight="normal" font-style="normal" text-anchor="end" fill="#222" style="white-space:pre" textLength="32.3" lengthAdjust="spacingAndGlyphs" stroke="#222" stroke-width="0.18">DOUBLE</text>
<text x="258.3" y="470.4" font-family="Liberation Sans" font-size="8.6" font-weight="normal" font-style="normal" text-anchor="end" fill="#222" style="white-space:pre" textLength="20.8" lengthAdjust="spacingAndGlyphs" stroke="#222" stroke-width="0.18">GATE</text>
<polyline points="260.4,457.9 263.5,457.9 289.6,480.2" stroke="#1a1a1a" stroke-width="1.0" fill="none" stroke-linejoin="miter"/>
<polygon points="289.6,480.2 285.3,478.3 287.1,476.2" fill="#1a1a1a" stroke="#1a1a1a" stroke-width="0.4"/>
<polyline points="276.1,478.0 280.2,478.0 291.7,488.5 295.4,482.3 299.2,488.5 310.4,478.6 314.8,478.0" stroke="#1a1a1a" stroke-width="1.3" fill="none" stroke-linejoin="miter"/>
<rect x="199.2" y="500.1" width="67.3" height="26.4" stroke="#1a1a1a" stroke-width="1.1" fill="none"/>
<text x="202.8" y="510.4" font-family="Liberation Sans" font-size="9.0" font-weight="normal" font-style="normal" text-anchor="start" fill="#222" style="white-space:pre" textLength="58.9" lengthAdjust="spacingAndGlyphs" stroke="#222" stroke-width="0.18">NOTE: DRIVE</text>
<text x="202.8" y="522.0" font-family="Liberation Sans" font-size="9.0" font-weight="normal" font-style="normal" text-anchor="start" fill="#222" style="white-space:pre" textLength="49" lengthAdjust="spacingAndGlyphs" stroke="#222" stroke-width="0.18">LEFT ONLY</text>
<line x1="275.0" y1="524.3" x2="314.8" y2="524.3" stroke="#1a1a1a" stroke-width="1.0" stroke-linecap="butt"/>
<polygon points="313.7,524.3 307.7,522.9 307.7,525.6" fill="#1a1a1a" stroke="#1a1a1a" stroke-width="0.4"/>
<polygon points="277.2,524.3 283.2,522.9 283.2,525.6" fill="#1a1a1a" stroke="#1a1a1a" stroke-width="0.4"/>
<text x="296.4" y="520.0" font-family="Liberation Sans" font-size="8.8" font-weight="normal" font-style="normal" text-anchor="middle" fill="#222" style="white-space:pre" textLength="11.5" lengthAdjust="spacingAndGlyphs" stroke="#222" stroke-width="0.18">10'</text>
<line x1="184.3" y1="541.4" x2="291.4" y2="541.4" stroke="#1a1a1a" stroke-width="1.2" stroke-linecap="butt"/>
<line x1="295.8" y1="541.4" x2="308.8" y2="541.4" stroke="#1a1a1a" stroke-width="1.2" stroke-linecap="butt"/>
<line x1="318.9" y1="541.4" x2="337.0" y2="541.4" stroke="#1a1a1a" stroke-width="1.2" stroke-linecap="butt"/>
<line x1="347.0" y1="541.4" x2="366.5" y2="541.4" stroke="#1a1a1a" stroke-width="1.2" stroke-linecap="butt"/>
<line x1="375.8" y1="541.4" x2="393.1" y2="541.4" stroke="#1a1a1a" stroke-width="1.2" stroke-linecap="butt"/>
<line x1="404.6" y1="541.4" x2="424.1" y2="541.4" stroke="#1a1a1a" stroke-width="1.2" stroke-linecap="butt"/>
<line x1="433.5" y1="541.4" x2="445.0" y2="541.4" stroke="#1a1a1a" stroke-width="1.2" stroke-linecap="butt"/>
<line x1="461.7" y1="541.4" x2="471.8" y2="541.4" stroke="#1a1a1a" stroke-width="1.2" stroke-linecap="butt"/>
<line x1="479.4" y1="541.4" x2="510.2" y2="541.4" stroke="#1a1a1a" stroke-width="1.2" stroke-linecap="butt"/>
<line x1="519.8" y1="541.4" x2="530.4" y2="541.4" stroke="#1a1a1a" stroke-width="1.2" stroke-linecap="butt"/>
<line x1="212.5" y1="555.0" x2="291.4" y2="555.0" stroke="#1a1a1a" stroke-width="1.2" stroke-linecap="butt"/>
<line x1="295.4" y1="555.0" x2="303.8" y2="555.0" stroke="#1a1a1a" stroke-width="1.2" stroke-linecap="butt"/>
<line x1="318.9" y1="555.0" x2="328.3" y2="555.0" stroke="#1a1a1a" stroke-width="1.2" stroke-linecap="butt"/>
<line x1="347.0" y1="555.0" x2="366.5" y2="555.0" stroke="#1a1a1a" stroke-width="1.2" stroke-linecap="butt"/>
<line x1="375.8" y1="555.0" x2="393.1" y2="555.0" stroke="#1a1a1a" stroke-width="1.2" stroke-linecap="butt"/>
<line x1="404.6" y1="555.0" x2="424.1" y2="555.0" stroke="#1a1a1a" stroke-width="1.2" stroke-linecap="butt"/>
<line x1="433.5" y1="555.0" x2="443.6" y2="555.0" stroke="#1a1a1a" stroke-width="1.2" stroke-linecap="butt"/>
<line x1="450.8" y1="555.0" x2="460.0" y2="555.0" stroke="#1a1a1a" stroke-width="1.2" stroke-linecap="butt"/>
<line x1="465.0" y1="555.0" x2="475.6" y2="555.0" stroke="#1a1a1a" stroke-width="1.2" stroke-linecap="butt"/>
<line x1="486.0" y1="555.0" x2="511.0" y2="555.0" stroke="#1a1a1a" stroke-width="1.2" stroke-linecap="butt"/>
<line x1="520.8" y1="555.0" x2="533.6" y2="555.0" stroke="#1a1a1a" stroke-width="1.2" stroke-linecap="butt"/>
<line x1="251.0" y1="562.4" x2="272.2" y2="562.4" stroke="#1a1a1a" stroke-width="1.2" stroke-linecap="butt"/>
<line x1="276.7" y1="562.4" x2="293.7" y2="562.4" stroke="#1a1a1a" stroke-width="1.2" stroke-linecap="butt"/>
<line x1="313.0" y1="562.4" x2="323.2" y2="562.4" stroke="#1a1a1a" stroke-width="1.2" stroke-linecap="butt"/>
<line x1="327.0" y1="562.4" x2="335.0" y2="562.4" stroke="#1a1a1a" stroke-width="1.2" stroke-linecap="butt"/>
<line x1="339.0" y1="562.4" x2="351.4" y2="562.4" stroke="#1a1a1a" stroke-width="1.2" stroke-linecap="butt"/>
<line x1="361.5" y1="562.4" x2="381.5" y2="562.4" stroke="#1a1a1a" stroke-width="1.2" stroke-linecap="butt"/>
<line x1="384.4" y1="562.4" x2="391.0" y2="562.4" stroke="#1a1a1a" stroke-width="1.2" stroke-linecap="butt"/>
<line x1="404.6" y1="562.4" x2="413.3" y2="562.4" stroke="#1a1a1a" stroke-width="1.2" stroke-linecap="butt"/>
<line x1="419.0" y1="562.4" x2="437.8" y2="562.4" stroke="#1a1a1a" stroke-width="1.2" stroke-linecap="butt"/>
<line x1="444.8" y1="562.4" x2="467.0" y2="562.4" stroke="#1a1a1a" stroke-width="1.2" stroke-linecap="butt"/>
<line x1="477.5" y1="562.4" x2="495.8" y2="562.4" stroke="#1a1a1a" stroke-width="1.2" stroke-linecap="butt"/>
<line x1="506.3" y1="562.4" x2="528.5" y2="562.4" stroke="#1a1a1a" stroke-width="1.2" stroke-linecap="butt"/>
<line x1="535.0" y1="562.4" x2="549.6" y2="562.4" stroke="#1a1a1a" stroke-width="1.2" stroke-linecap="butt"/>
<line x1="272.0" y1="593.3" x2="340.0" y2="593.3" stroke="#1a1a1a" stroke-width="1.3" stroke-linecap="butt"/>
<line x1="347.3" y1="593.3" x2="358.0" y2="593.3" stroke="#1a1a1a" stroke-width="1.3" stroke-linecap="butt"/>
<line x1="364.0" y1="593.3" x2="393.0" y2="593.3" stroke="#1a1a1a" stroke-width="1.3" stroke-linecap="butt"/>
<line x1="394.0" y1="593.3" x2="443.5" y2="593.3" stroke="#1a1a1a" stroke-width="1.3" stroke-linecap="butt"/>
<line x1="447.2" y1="593.3" x2="458.3" y2="593.3" stroke="#1a1a1a" stroke-width="1.3" stroke-linecap="butt"/>
<line x1="467.0" y1="593.3" x2="479.4" y2="593.3" stroke="#1a1a1a" stroke-width="1.3" stroke-linecap="butt"/>
<line x1="487.0" y1="593.3" x2="553.0" y2="593.3" stroke="#1a1a1a" stroke-width="1.3" stroke-linecap="butt"/>
<line x1="318.8" y1="524.2" x2="318.8" y2="610.5" stroke="#1a1a1a" stroke-width="1.2" stroke-linecap="butt"/>
<line x1="444.4" y1="540.3" x2="444.4" y2="610.5" stroke="#1a1a1a" stroke-width="1.0" stroke-linecap="butt"/>
<line x1="337.3" y1="518.5" x2="337.3" y2="610.0" stroke="#1a1a1a" stroke-width="1.0" stroke-linecap="butt"/>
<polygon points="337.3,519.7 335.9,525.7 338.7,525.7" fill="#1a1a1a" stroke="#1a1a1a" stroke-width="0.4"/>
<polygon points="337.3,608.9 335.9,602.9 338.7,602.9" fill="#1a1a1a" stroke="#1a1a1a" stroke-width="0.4"/>
<line x1="393.9" y1="534.6" x2="393.9" y2="610.0" stroke="#1a1a1a" stroke-width="1.0" stroke-linecap="butt"/>
<polygon points="393.9,535.8 392.5,541.8 395.2,541.8" fill="#1a1a1a" stroke="#1a1a1a" stroke-width="0.4"/>
<polygon points="393.9,608.9 392.5,602.9 395.2,602.9" fill="#1a1a1a" stroke="#1a1a1a" stroke-width="0.4"/>
<text x="334.5" y="564.6" font-family="Liberation Sans" font-size="8.4" font-weight="normal" font-style="normal" text-anchor="middle" fill="#222" style="white-space:pre" transform="rotate(-90 334.5 564.6)" textLength="22.5" lengthAdjust="spacingAndGlyphs" stroke="#222" stroke-width="0.12">23'-11"</text>
<text x="346.6" y="565.0" font-family="Liberation Sans" font-size="8.6" font-weight="normal" font-style="normal" text-anchor="middle" fill="#222" style="white-space:pre" transform="rotate(-90 346.6 565.0)" textLength="37.7" lengthAdjust="spacingAndGlyphs" stroke="#222" stroke-width="0.12">DRIVEWAY</text>
<text x="390.8" y="571.8" font-family="Liberation Sans" font-size="8.4" font-weight="normal" font-style="normal" text-anchor="middle" fill="#222" style="white-space:pre" transform="rotate(-90 390.8 571.8)" textLength="22.5" lengthAdjust="spacingAndGlyphs" stroke="#222" stroke-width="0.12">19'-11"</text>
<text x="403.0" y="572.2" font-family="Liberation Sans" font-size="8.6" font-weight="normal" font-style="normal" text-anchor="middle" fill="#222" style="white-space:pre" transform="rotate(-90 403.0 572.2)" textLength="37.7" lengthAdjust="spacingAndGlyphs" stroke="#222" stroke-width="0.12">DRIVEWAY</text>
<text x="415.6" y="591.4" font-family="Liberation Sans" font-size="9.6" font-weight="normal" font-style="normal" text-anchor="start" fill="#222" style="white-space:pre" textLength="24.7" lengthAdjust="spacingAndGlyphs" stroke="#222" stroke-width="0.18">72.50'</text>
<line x1="314.9" y1="524.3" x2="314.9" y2="593.3" stroke="#1a1a1a" stroke-width="1.0" stroke-linecap="butt"/>
<polygon points="314.9,527.1 313.5,533.1 316.2,533.1" fill="#1a1a1a" stroke="#1a1a1a" stroke-width="0.4"/>
<polygon points="314.9,590.9 313.5,584.9 316.2,584.9" fill="#1a1a1a" stroke="#1a1a1a" stroke-width="0.4"/>
<text x="310.3" y="559.0" font-family="Liberation Sans" font-size="8.8" font-weight="normal" font-style="normal" text-anchor="middle" fill="#222" style="white-space:pre" transform="rotate(-90 310.3 559.0)" textLength="11.5" lengthAdjust="spacingAndGlyphs" stroke="#222" stroke-width="0.12">18'</text>
<rect x="448.7" y="550.9" width="3.5" height="3.5" stroke="#1a1a1a" stroke-width="1.6" fill="none"/>
<rect x="477.0" y="550.9" width="3.5" height="3.5" stroke="#1a1a1a" stroke-width="1.6" fill="none"/>
<line x1="480.6" y1="555.0" x2="480.6" y2="593.0" stroke="#1a1a1a" stroke-width="1.0" stroke-linecap="butt"/>
<polygon points="480.6,591.9 479.2,585.9 482.0,585.9" fill="#1a1a1a" stroke="#1a1a1a" stroke-width="0.4"/>
<polygon points="480.6,556.3 479.2,562.3 482.0,562.3" fill="#1a1a1a" stroke="#1a1a1a" stroke-width="0.4"/>
<text x="476.6" y="572.7" font-family="Liberation Sans" font-size="8.8" font-weight="normal" font-style="normal" text-anchor="middle" fill="#222" style="white-space:pre" transform="rotate(-90 476.6 572.7)" textLength="11.5" lengthAdjust="spacingAndGlyphs" stroke="#222" stroke-width="0.12">10'</text>
<line x1="524.1" y1="547.2" x2="524.1" y2="593.0" stroke="#1a1a1a" stroke-width="1.0" stroke-linecap="butt"/>
<polygon points="524.1,548.5 522.8,554.5 525.5,554.5" fill="#1a1a1a" stroke="#1a1a1a" stroke-width="0.4"/>
<polygon points="524.1,591.9 522.8,585.9 525.5,585.9" fill="#1a1a1a" stroke="#1a1a1a" stroke-width="0.4"/>
<text x="520.0" y="570.4" font-family="Liberation Sans" font-size="8.8" font-weight="normal" font-style="normal" text-anchor="middle" fill="#222" style="white-space:pre" transform="rotate(-90 520.0 570.4)" textLength="11.5" lengthAdjust="spacingAndGlyphs" stroke="#222" stroke-width="0.12">12'</text>
<line x1="552.8" y1="578.0" x2="552.8" y2="593.3" stroke="#1a1a1a" stroke-width="1.0" stroke-linecap="butt"/>
<rect x="547.9" y="570.5" width="10.3" height="7.5" stroke="#1a1a1a" stroke-width="1.0" fill="none"/>
<line x1="552.8" y1="570.5" x2="552.8" y2="578.0" stroke="#1a1a1a" stroke-width="0.8" stroke-linecap="butt"/>
<line x1="444.4" y1="562.7" x2="467.0" y2="562.7" stroke="#1a1a1a" stroke-width="0.8" stroke-linecap="butt"/>
<line x1="469.8" y1="556.0" x2="469.8" y2="565.6" stroke="#1a1a1a" stroke-width="0.8" stroke-linecap="butt"/>
<line x1="444.4" y1="576.2" x2="468.8" y2="576.2" stroke="#1a1a1a" stroke-width="0.8" stroke-linecap="butt"/>
<line x1="456.3" y1="555.0" x2="456.3" y2="561.7" stroke="#1a1a1a" stroke-width="0.8" stroke-linecap="butt"/>
<line x1="188.7" y1="541.3" x2="188.7" y2="711.5" stroke="#1a1a1a" stroke-width="0.9" stroke-linecap="butt"/>
<polygon points="188.7,542.7 187.3,548.7 190.0,548.7" fill="#1a1a1a" stroke="#1a1a1a" stroke-width="0.4"/>
<polygon points="188.7,609.2 187.3,603.2 190.0,603.2" fill="#1a1a1a" stroke="#1a1a1a" stroke-width="0.4"/>
<line x1="184.4" y1="610.5" x2="272.8" y2="610.5" stroke="#1a1a1a" stroke-width="1.1" stroke-linecap="butt"/>
<line x1="215.9" y1="555.0" x2="215.9" y2="707.7" stroke="#1a1a1a" stroke-width="0.9" stroke-linecap="butt"/>
<polygon points="215.9,556.4 214.6,562.4 217.2,562.4" fill="#1a1a1a" stroke="#1a1a1a" stroke-width="0.4"/>
<polygon points="215.9,591.9 214.6,585.9 217.2,585.9" fill="#1a1a1a" stroke="#1a1a1a" stroke-width="0.4"/>
<line x1="212.6" y1="593.3" x2="272.8" y2="593.3" stroke="#1a1a1a" stroke-width="1.1" stroke-linecap="butt"/>
<line x1="254.9" y1="562.6" x2="254.9" y2="688.8" stroke="#1a1a1a" stroke-width="1.0" stroke-linecap="butt"/>
<polygon points="254.9,563.9 253.6,569.9 256.2,569.9" fill="#1a1a1a" stroke="#1a1a1a" stroke-width="0.4"/>
<polygon points="254.9,591.9 253.6,585.9 256.2,585.9" fill="#1a1a1a" stroke="#1a1a1a" stroke-width="0.4"/>
<polygon points="254.9,594.7 253.6,600.7 256.2,600.7" fill="#1a1a1a" stroke="#1a1a1a" stroke-width="0.4"/>
<polygon points="254.9,687.5 253.6,681.5 256.2,681.5" fill="#1a1a1a" stroke="#1a1a1a" stroke-width="0.4"/>
<text x="251.6" y="577.4" font-family="Liberation Sans" font-size="9.6" font-weight="normal" font-style="normal" text-anchor="middle" fill="#222" style="white-space:pre" transform="rotate(-90 251.6 577.4)" stroke="#222" stroke-width="0.12">8'</text>
<text x="265.4" y="578.0" font-family="Liberation Sans" font-size="9.6" font-weight="normal" font-style="normal" text-anchor="middle" fill="#222" style="white-space:pre" transform="rotate(-90 265.4 578.0)" textLength="18" lengthAdjust="spacingAndGlyphs" stroke="#222" stroke-width="0.12">PUE</text>
<text x="251.0" y="641.5" font-family="Liberation Sans" font-size="8.8" font-weight="normal" font-style="normal" text-anchor="middle" fill="#222" style="white-space:pre" transform="rotate(-90 251.0 641.5)" textLength="11.5" lengthAdjust="spacingAndGlyphs" stroke="#222" stroke-width="0.12">25'</text>
<text x="265.2" y="641.4" font-family="Liberation Sans" font-size="8.8" font-weight="normal" font-style="normal" text-anchor="middle" fill="#222" style="white-space:pre" transform="rotate(-90 265.2 641.4)" textLength="17" lengthAdjust="spacingAndGlyphs" stroke="#222" stroke-width="0.12">R/W</text>
<text x="185.5" y="666.0" font-family="Liberation Sans" font-size="8.8" font-weight="normal" font-style="normal" text-anchor="middle" fill="#222" style="white-space:pre" transform="rotate(-90 185.5 666.0)" textLength="40" lengthAdjust="spacingAndGlyphs" stroke="#222" stroke-width="0.12">18' BSL *</text>
<text x="199.1" y="664.8" font-family="Liberation Sans" font-size="8.8" font-weight="normal" font-style="normal" text-anchor="middle" fill="#222" style="white-space:pre" transform="rotate(-90 199.1 664.8)" textLength="86" lengthAdjust="spacingAndGlyphs" stroke="#222" stroke-width="0.12">GARAGE SETBACK</text>
<text x="212.7" y="663.5" font-family="Liberation Sans" font-size="8.8" font-weight="normal" font-style="normal" text-anchor="middle" fill="#222" style="white-space:pre" transform="rotate(-90 212.7 663.5)" textLength="32" lengthAdjust="spacingAndGlyphs" stroke="#222" stroke-width="0.12">10' BSL</text>
<text x="226.8" y="663.4" font-family="Liberation Sans" font-size="8.8" font-weight="normal" font-style="normal" text-anchor="middle" fill="#222" style="white-space:pre" transform="rotate(-90 226.8 663.4)" textLength="83" lengthAdjust="spacingAndGlyphs" stroke="#222" stroke-width="0.12">LIVABLE &amp; PORCH</text>
<text x="237.6" y="661.5" font-family="Liberation Sans" font-size="8.8" font-weight="normal" font-style="normal" text-anchor="middle" fill="#222" style="white-space:pre" transform="rotate(-90 237.6 661.5)" textLength="43.6" lengthAdjust="spacingAndGlyphs" stroke="#222" stroke-width="0.12">SETBACK</text>
<rect x="281.4" y="593.4" width="12.4" height="12.8" stroke="#1a1a1a" stroke-width="1.0" fill="none"/>
<line x1="287.5" y1="606.2" x2="287.5" y2="655.9" stroke="#1a1a1a" stroke-width="0.9" stroke-linecap="butt"/>
<rect x="276" y="610.6" width="276.5" height="14.9" fill="url(#stip)"/>
<line x1="276.0" y1="610.6" x2="552.4" y2="610.6" stroke="#444" stroke-width="0.8" stroke-linecap="butt"/>
<line x1="276.0" y1="625.6" x2="552.4" y2="625.6" stroke="#333" stroke-width="1.4" stroke-linecap="butt"/>
<line x1="276.0" y1="633.2" x2="552.4" y2="633.2" stroke="#1a1a1a" stroke-width="1.1" stroke-linecap="butt"/>
<line x1="414.4" y1="555.0" x2="414.4" y2="707.4" stroke="#1a1a1a" stroke-width="1.0" stroke-linecap="butt"/>
<line x1="414.4" y1="707.4" x2="398.7" y2="723.6" stroke="#1a1a1a" stroke-width="1.0" stroke-linecap="butt"/>
<path d="M468.5,633.2 Q478,626 487,625.7" stroke="#1a1a1a" stroke-width="1.0" fill="none"/>
<path d="M539.5,625.7 Q548,626.5 552.3,633.2" stroke="#1a1a1a" stroke-width="1.0" fill="none"/>
<line x1="487.0" y1="625.7" x2="487.0" y2="633.2" stroke="#1a1a1a" stroke-width="1.0" stroke-linecap="butt"/>
<line x1="500.3" y1="625.7" x2="500.3" y2="633.2" stroke="#1a1a1a" stroke-width="1.0" stroke-linecap="butt"/>
<line x1="527.4" y1="625.7" x2="527.4" y2="633.2" stroke="#1a1a1a" stroke-width="1.0" stroke-linecap="butt"/>
<line x1="539.5" y1="625.7" x2="539.5" y2="633.2" stroke="#1a1a1a" stroke-width="1.0" stroke-linecap="butt"/>
<rect x="487" y="625.7" width="52.5" height="3.4" fill="#777"/>
<rect x="500.3" y="612.0" width="15.3" height="12.0" stroke="#1a1a1a" stroke-width="0.9" fill="none" stroke-dasharray="3,1.5"/>
<circle cx="507.9" cy="618.0" r="4.2" stroke="#1a1a1a" stroke-width="0.9" fill="none"/>
<text x="507.9" y="620.4" font-family="Liberation Sans" font-size="5.8" font-weight="normal" font-style="normal" text-anchor="middle" fill="#222" style="white-space:pre">E</text>
<rect x="517.7" y="617.8" width="6.3" height="3.3" stroke="#1a1a1a" stroke-width="0.8" fill="none"/>
<line x1="250.1" y1="689.5" x2="271.9" y2="689.5" stroke="#1a1a1a" stroke-width="1.3" stroke-linecap="butt"/>
<line x1="275.8" y1="689.5" x2="314.2" y2="689.5" stroke="#1a1a1a" stroke-width="1.3" stroke-linecap="butt"/>
<line x1="322.0" y1="689.5" x2="333.5" y2="689.5" stroke="#1a1a1a" stroke-width="1.3" stroke-linecap="butt"/>
<line x1="342.4" y1="689.5" x2="402.6" y2="689.5" stroke="#1a1a1a" stroke-width="1.3" stroke-linecap="butt"/>
<line x1="410.0" y1="689.5" x2="419.0" y2="689.5" stroke="#1a1a1a" stroke-width="1.3" stroke-linecap="butt"/>
<line x1="428.2" y1="689.5" x2="485.9" y2="689.5" stroke="#1a1a1a" stroke-width="1.3" stroke-linecap="butt"/>
<line x1="496.2" y1="689.5" x2="505.1" y2="689.5" stroke="#1a1a1a" stroke-width="1.3" stroke-linecap="butt"/>
<line x1="515.4" y1="689.5" x2="553.8" y2="689.5" stroke="#1a1a1a" stroke-width="1.3" stroke-linecap="butt"/>
<text x="348.7" y="684.9" font-family="Liberation Sans" font-size="11.4" font-weight="normal" font-style="normal" text-anchor="start" fill="#222" style="white-space:pre" textLength="131" lengthAdjust="spacingAndGlyphs" stroke="#222" stroke-width="0.18">W. COPLEN FARMS RD.</text>
<circle cx="589.6" cy="739.3" r="17.1" stroke="#1a1a1a" stroke-width="1.4" fill="none"/>
<polygon points="584.8,726 589.2,722.4 597.7,729.2 597.7,738.8 588.9,738.8" fill="#cdeec5"/>
<polyline points="572.6,738.8 589.6,722.3 606.6,738.8" stroke="#1a1a1a" stroke-width="1.1" fill="none" stroke-linejoin="miter"/>
<line x1="572.6" y1="738.8" x2="606.6" y2="738.8" stroke="#1a1a1a" stroke-width="1.1" stroke-linecap="butt"/>
<text x="589.6" y="752.0" font-family="Liberation Serif" font-size="36" font-weight="normal" font-style="normal" text-anchor="middle" fill="#111" style="white-space:pre" textLength="26" lengthAdjust="spacingAndGlyphs" stroke="#111" stroke-width="0.18">N</text>
<rect x="197.4" y="785.5" width="19.3" height="4.1" fill="#1a1a1a"/>
<rect x="197.4" y="789.6" width="19.3" height="4.1" fill="#fff"/>
<rect x="216.7" y="785.5" width="19.1" height="4.1" fill="#fff"/>
<rect x="216.7" y="789.6" width="19.1" height="4.1" fill="#1a1a1a"/>
<rect x="235.8" y="785.5" width="19.6" height="4.1" fill="#1a1a1a"/>
<rect x="235.8" y="789.6" width="19.6" height="4.1" fill="#fff"/>
<rect x="255.4" y="785.5" width="19.6" height="4.1" fill="#fff"/>
<rect x="255.4" y="789.6" width="19.6" height="4.1" fill="#1a1a1a"/>
<rect x="275.0" y="785.5" width="39.0" height="4.1" fill="#1a1a1a"/>
<rect x="275.0" y="789.6" width="39.0" height="4.1" fill="#fff"/>
<rect x="314.0" y="785.5" width="38.1" height="4.1" fill="#fff"/>
<rect x="314.0" y="789.6" width="38.1" height="4.1" fill="#1a1a1a"/>
<rect x="197.4" y="785.5" width="154.7" height="8.2" stroke="#1a1a1a" stroke-width="1.0" fill="none"/>
<text x="198.2" y="780.9" font-family="Liberation Sans" font-size="7.2" font-weight="bold" font-style="normal" text-anchor="middle" fill="#222" style="white-space:pre" stroke="#222" stroke-width="0.12">0</text>
<text x="274.5" y="780.9" font-family="Liberation Sans" font-size="7.2" font-weight="bold" font-style="normal" text-anchor="middle" fill="#222" style="white-space:pre" stroke="#222" stroke-width="0.12">20</text>
<text x="350.8" y="780.9" font-family="Liberation Sans" font-size="7.2" font-weight="bold" font-style="normal" text-anchor="middle" fill="#222" style="white-space:pre" stroke="#222" stroke-width="0.12">40</text>
<text x="239.0" y="806.2" font-family="Liberation Sans" font-size="7.2" font-weight="normal" font-style="normal" text-anchor="start" fill="#222" style="white-space:pre" textLength="68" lengthAdjust="spacingAndGlyphs" stroke="#222" stroke-width="0.45">SCALE:  1"=20'-0"</text>
<rect x="383.0" y="764.5" width="231.0" height="55.0" stroke="#1a1a1a" stroke-width="1.4" fill="none"/>
<rect x="412" y="770.6" width="21" height="3.9" fill="#2b3040"/>
<rect x="419.6" y="770.6" width="4.6" height="26.9" fill="#2b3040"/>
<polygon points="430,770.6 436,770.6 445,790 454,770.6 458,770.6 458,797.5 453.4,797.5 453.4,780 446.5,797.5 443.5,797.5 434.6,779 434.6,797.5 430,797.5" fill="#2b3040"/>
<polygon points="439.5,770.6 450.5,770.6 445,779.5" fill="#8c8c8c"/>
<path d="M455.6,772.9 L466,772.9 Q478.6,773 478.6,784.05 Q478.6,795.2 466,795.2 L455.6,795.2 Z" stroke="#2b3040" stroke-width="4.6" fill="none"/>
<text x="389.0" y="812.0" font-family="Liberation Sans" font-size="6.6" font-weight="bold" font-style="normal" text-anchor="start" fill="#7a7a7a" style="white-space:pre" textLength="111.8" lengthAdjust="spacing">DESIGN SERVICES</text>
<text x="507.3" y="780.0" font-family="Liberation Sans" font-size="7.7" font-weight="normal" font-style="normal" text-anchor="start" fill="#222" style="white-space:pre" textLength="101.3" lengthAdjust="spacingAndGlyphs" stroke="#222" stroke-width="0.1">6635 W. Happy Valley Road</text>
<text x="507.3" y="789.2" font-family="Liberation Sans" font-size="7.7" font-weight="normal" font-style="normal" text-anchor="start" fill="#222" style="white-space:pre" textLength="58.2" lengthAdjust="spacingAndGlyphs" stroke="#222" stroke-width="0.1">Suite A-104-438</text>
<text x="507.3" y="798.9" font-family="Liberation Sans" font-size="7.7" font-weight="normal" font-style="normal" text-anchor="start" fill="#222" style="white-space:pre" textLength="72" lengthAdjust="spacingAndGlyphs" stroke="#222" stroke-width="0.1">Glendale, AZ 85310</text>
<text x="507.3" y="808.1" font-family="Liberation Sans" font-size="7.7" font-weight="normal" font-style="normal" text-anchor="start" fill="#222" style="white-space:pre" textLength="55.4" lengthAdjust="spacingAndGlyphs" stroke="#222" stroke-width="0.1">(602) 862-5419</text>
<text x="576.0" y="826.5" font-family="Liberation Sans" font-size="3.4" font-weight="normal" font-style="normal" text-anchor="start" fill="#666" style="white-space:pre" textLength="46" lengthAdjust="spacingAndGlyphs">2/23/2026 2:36:55 PM</text>
<text x="13.5" y="438.6" font-family="Liberation Sans" font-size="6.8" font-weight="normal" font-style="normal" text-anchor="start" fill="#222" style="white-space:pre" textLength="122" lengthAdjust="spacingAndGlyphs" stroke="#222" stroke-width="0.12">CURB CUTS FILED VERIFIED: 12/11/25</text>
<text x="13.5" y="446.3" font-family="Liberation Sans" font-size="6.8" font-weight="normal" font-style="normal" text-anchor="start" fill="#222" style="white-space:pre" textLength="97" lengthAdjust="spacingAndGlyphs" stroke="#222" stroke-width="0.12">LOTS FIELD VERIFIED: 1/20/26</text>
<line x1="8.6" y1="449.8" x2="163.0" y2="449.8" stroke="#1a1a1a" stroke-width="1.2" stroke-linecap="butt"/>
<line x1="163.0" y1="449.8" x2="163.0" y2="819.5" stroke="#1a1a1a" stroke-width="1.2" stroke-linecap="butt"/>
<line x1="8.6" y1="564.9" x2="163.0" y2="564.9" stroke="#1a1a1a" stroke-width="1.2" stroke-linecap="butt"/>
<text x="12.2" y="458.5" font-family="Liberation Sans" font-size="8.0" font-weight="normal" font-style="normal" text-anchor="start" fill="#222" style="white-space:pre" textLength="38.4" lengthAdjust="spacingAndGlyphs" stroke="#222" stroke-width="0.18">LEGEND :</text>
<line x1="12.2" y1="460.6" x2="50.6" y2="460.6" stroke="#1a1a1a" stroke-width="0.8" stroke-linecap="butt"/>
<line x1="13.8" y1="466.4" x2="53.0" y2="466.4" stroke="#1a1a1a" stroke-width="1.4" stroke-dasharray="11.2,2.4,3.2,3.2,4.1,3.1" stroke-linecap="butt"/>
<text x="159.4" y="468.0" font-family="Liberation Sans" font-size="6.65" font-weight="normal" font-style="normal" text-anchor="end" fill="#222" style="white-space:pre">PROPERTY LINE</text>
<text x="13.8" y="477.0" font-family="Liberation Sans" font-size="6.7" font-weight="normal" font-style="normal" text-anchor="start" fill="#222" style="white-space:pre">R/W</text>
<text x="159.4" y="477.0" font-family="Liberation Sans" font-size="6.65" font-weight="normal" font-style="normal" text-anchor="end" fill="#222" style="white-space:pre">RIGHT-OF-WAY</text>
<text x="13.8" y="486.7" font-family="Liberation Sans" font-size="6.7" font-weight="normal" font-style="normal" text-anchor="start" fill="#222" style="white-space:pre">S.V.T.</text>
<text x="159.4" y="486.7" font-family="Liberation Sans" font-size="6.65" font-weight="normal" font-style="normal" text-anchor="end" fill="#222" style="white-space:pre">SIGHT VISIBILITY TRIANGLE</text>
<text x="13.8" y="496.0" font-family="Liberation Sans" font-size="6.7" font-weight="normal" font-style="normal" text-anchor="start" fill="#222" style="white-space:pre">V.N.A.E.</text>
<text x="159.4" y="496.0" font-family="Liberation Sans" font-size="6.65" font-weight="normal" font-style="normal" text-anchor="end" fill="#222" style="white-space:pre">VEHICULAR NON-ACCESS EASE.</text>
<text x="13.8" y="505.6" font-family="Liberation Sans" font-size="6.7" font-weight="normal" font-style="normal" text-anchor="start" fill="#222" style="white-space:pre">P.U.E.</text>
<text x="159.4" y="505.6" font-family="Liberation Sans" font-size="6.65" font-weight="normal" font-style="normal" text-anchor="end" fill="#222" style="white-space:pre">PUBLIC UTILITY EASEMENT</text>
<text x="13.8" y="514.9" font-family="Liberation Sans" font-size="6.7" font-weight="normal" font-style="normal" text-anchor="start" fill="#222" style="white-space:pre">B.S.L.</text>
<text x="159.4" y="514.9" font-family="Liberation Sans" font-size="6.65" font-weight="normal" font-style="normal" text-anchor="end" fill="#222" style="white-space:pre">BUILDING SETBACK LINE</text>
<text x="159.4" y="524.2" font-family="Liberation Sans" font-size="6.65" font-weight="normal" font-style="normal" text-anchor="end" fill="#222" style="white-space:pre">ELECTRIC SERVICE LOCATION</text>
<text x="159.4" y="533.8" font-family="Liberation Sans" font-size="6.65" font-weight="normal" font-style="normal" text-anchor="end" fill="#222" style="white-space:pre">ELEC. TRANSFORMER LOCATION</text>
<text x="159.4" y="542.8" font-family="Liberation Sans" font-size="6.65" font-weight="normal" font-style="normal" text-anchor="end" fill="#222" style="white-space:pre">FIRE HYDRANT</text>
<text x="159.4" y="552.4" font-family="Liberation Sans" font-size="6.65" font-weight="normal" font-style="normal" text-anchor="end" fill="#222" style="white-space:pre">JUNCTION BOX</text>
<text x="159.4" y="561.7" font-family="Liberation Sans" font-size="6.65" font-weight="normal" font-style="normal" text-anchor="end" fill="#222" style="white-space:pre">STREET LIGHT LOCATION</text>
<circle cx="18.1" cy="522.2" r="4.3" stroke="#1a1a1a" stroke-width="0.9" fill="none"/>
<text x="18.1" y="524.4" font-family="Liberation Sans" font-size="5.6" font-weight="normal" font-style="normal" text-anchor="middle" fill="#222" style="white-space:pre">E</text>
<rect x="23.6" y="527.7" width="8.1" height="7.1" stroke="#1a1a1a" stroke-width="0.9" fill="none"/>
<polygon points="23.6,534.8 23.6,532.2 26.6,527.7 28.7,527.7 31.7,532.2 31.7,534.8" fill="#1a1a1a"/>
<circle cx="17.8" cy="541.2" r="3.8" stroke="#1a1a1a" stroke-width="0.9" fill="#1a1a1a"/>
<path d="M17.8,541.2 L21.2,539.6 A3.6,3.6 0 0 0 19.4,537.9 Z M17.8,541.2 L14.4,542.8 A3.6,3.6 0 0 0 16.2,544.5 Z" fill="#fff"/>
<rect x="23.3" y="547.8" width="7.3" height="4.9" stroke="#1a1a1a" stroke-width="1.0" fill="none"/>
<line x1="12.2" y1="559.7" x2="22.0" y2="559.7" stroke="#1a1a1a" stroke-width="1.0" stroke-linecap="butt"/>
<rect x="22" y="557.7" width="11.5" height="4.0" rx="2" stroke="#1a1a1a" stroke-width="1" fill="none"/>
<text x="12.8" y="575.0" font-family="Liberation Sans" font-size="7.4" font-weight="normal" font-style="normal" text-anchor="start" fill="#222" style="white-space:pre" textLength="79.2" lengthAdjust="spacingAndGlyphs" stroke="#222" stroke-width="0.12">BUILDING SETBACKS:</text>
<text x="12.8" y="584.0" font-family="Liberation Sans" font-size="7.4" font-weight="normal" font-style="normal" text-anchor="start" fill="#222" style="white-space:pre" textLength="117" lengthAdjust="spacingAndGlyphs" stroke="#222" stroke-width="0.12">(R-10 ZONING - INTERIOR LOTS)</text>
<text x="12.8" y="593.0" font-family="Liberation Sans" font-size="7.4" font-weight="normal" font-style="normal" text-anchor="start" fill="#222" style="white-space:pre" textLength="82" lengthAdjust="spacingAndGlyphs" stroke="#222" stroke-width="0.12">FRONT LOAD GARAGE</text>
<text x="136.0" y="593.0" font-family="Liberation Sans" font-size="7.4" font-weight="normal" font-style="normal" text-anchor="start" fill="#222" style="white-space:pre" stroke="#222" stroke-width="0.12">= 18'  *</text>
<text x="12.8" y="602.0" font-family="Liberation Sans" font-size="7.4" font-weight="normal" font-style="normal" text-anchor="start" fill="#222" style="white-space:pre" textLength="63.5" lengthAdjust="spacingAndGlyphs" stroke="#222" stroke-width="0.12">LIVABLE / PORCH</text>
<text x="136.0" y="602.0" font-family="Liberation Sans" font-size="7.4" font-weight="normal" font-style="normal" text-anchor="start" fill="#222" style="white-space:pre" stroke="#222" stroke-width="0.12">= 10'</text>
<text x="12.8" y="611.0" font-family="Liberation Sans" font-size="7.4" font-weight="normal" font-style="normal" text-anchor="start" fill="#222" style="white-space:pre" stroke="#222" stroke-width="0.12">SIDE</text>
<text x="114.7" y="611.0" font-family="Liberation Sans" font-size="7.4" font-weight="normal" font-style="normal" text-anchor="start" fill="#222" style="white-space:pre" stroke="#222" stroke-width="0.12">= 5' AND 5'</text>
<text x="12.8" y="620.3" font-family="Liberation Sans" font-size="7.4" font-weight="normal" font-style="normal" text-anchor="start" fill="#222" style="white-space:pre" textLength="49.5" lengthAdjust="spacingAndGlyphs" stroke="#222" stroke-width="0.12">STREET SIDE</text>
<text x="136.0" y="620.3" font-family="Liberation Sans" font-size="7.4" font-weight="normal" font-style="normal" text-anchor="start" fill="#222" style="white-space:pre" stroke="#222" stroke-width="0.12">= 10'</text>
<text x="12.8" y="629.2" font-family="Liberation Sans" font-size="7.4" font-weight="normal" font-style="normal" text-anchor="start" fill="#222" style="white-space:pre" stroke="#222" stroke-width="0.12">REAR</text>
<text x="136.0" y="629.2" font-family="Liberation Sans" font-size="7.4" font-weight="normal" font-style="normal" text-anchor="start" fill="#222" style="white-space:pre" stroke="#222" stroke-width="0.12">= 5'</text>
<text x="12.8" y="647.2" font-family="Liberation Sans" font-size="6.6" font-weight="normal" font-style="normal" text-anchor="start" fill="#222" style="white-space:pre" textLength="92" lengthAdjust="spacingAndGlyphs">MAXIMUM LOT COVERAGE =</text>
<text x="12.8" y="655.2" font-family="Liberation Sans" font-size="5.0" font-weight="normal" font-style="normal" text-anchor="start" fill="#222" style="white-space:pre" textLength="123.5" lengthAdjust="spacingAndGlyphs">5,461 (ATTACHED) + 1,365 (SHADE STRUCTURE)</text>
<text x="12.8" y="662.0" font-family="Liberation Sans" font-size="5.8" font-weight="normal" font-style="normal" text-anchor="start" fill="#222" style="white-space:pre" textLength="117" lengthAdjust="spacingAndGlyphs">* NOTE: FRONT LOADED GARAGE TO BE</text>
<text x="12.8" y="669.6" font-family="Liberation Sans" font-size="5.8" font-weight="normal" font-style="normal" text-anchor="start" fill="#222" style="white-space:pre" textLength="98.5" lengthAdjust="spacingAndGlyphs">18' FROM BACK OF SIDEWALK.</text>
<line x1="8.6" y1="673.8" x2="163.0" y2="673.8" stroke="#1a1a1a" stroke-width="1.2" stroke-linecap="butt"/>
<text x="13.0" y="681.9" font-family="Liberation Sans" font-size="6.6" font-weight="normal" font-style="normal" text-anchor="start" fill="#222" style="white-space:pre">LIVABLE 1st FLOOR:</text>
<text x="136.0" y="681.9" font-family="Liberation Sans" font-size="8.0" font-weight="bold" font-style="normal" text-anchor="end" fill="#222" style="white-space:pre" stroke="#222" stroke-width="0.18">2892</text>
<text x="140.0" y="681.9" font-family="Liberation Sans" font-size="6.9" font-weight="normal" font-style="normal" text-anchor="start" fill="#222" style="white-space:pre" textLength="20.5" lengthAdjust="spacingAndGlyphs" stroke="#222" stroke-width="0.12">SQ.FT.</text>
<text x="13.0" y="689.3" font-family="Liberation Sans" font-size="6.6" font-weight="normal" font-style="normal" text-anchor="start" fill="#222" style="white-space:pre">LIVABLE 2nd FLOOR:</text>
<text x="136.0" y="689.3" font-family="Liberation Sans" font-size="8.0" font-weight="bold" font-style="normal" text-anchor="end" fill="#222" style="white-space:pre" stroke="#222" stroke-width="0.18">0</text>
<text x="140.0" y="689.3" font-family="Liberation Sans" font-size="6.9" font-weight="normal" font-style="normal" text-anchor="start" fill="#222" style="white-space:pre" textLength="20.5" lengthAdjust="spacingAndGlyphs" stroke="#222" stroke-width="0.12">SQ.FT.</text>
<text x="13.0" y="697.0" font-family="Liberation Sans" font-size="6.6" font-weight="normal" font-style="normal" text-anchor="start" fill="#222" style="white-space:pre">GARAGE:</text>
<text x="136.0" y="697.0" font-family="Liberation Sans" font-size="8.0" font-weight="bold" font-style="normal" text-anchor="end" fill="#222" style="white-space:pre" stroke="#222" stroke-width="0.18">1306</text>
<text x="140.0" y="697.0" font-family="Liberation Sans" font-size="6.9" font-weight="normal" font-style="normal" text-anchor="start" fill="#222" style="white-space:pre" textLength="20.5" lengthAdjust="spacingAndGlyphs" stroke="#222" stroke-width="0.12">SQ.FT.</text>
<text x="13.0" y="704.7" font-family="Liberation Sans" font-size="6.6" font-weight="normal" font-style="normal" text-anchor="start" fill="#222" style="white-space:pre">OUTDOOR LIVING:</text>
<text x="136.0" y="704.7" font-family="Liberation Sans" font-size="8.0" font-weight="bold" font-style="normal" text-anchor="end" fill="#222" style="white-space:pre" stroke="#222" stroke-width="0.18">210</text>
<text x="140.0" y="704.7" font-family="Liberation Sans" font-size="6.9" font-weight="normal" font-style="normal" text-anchor="start" fill="#222" style="white-space:pre" textLength="20.5" lengthAdjust="spacingAndGlyphs" stroke="#222" stroke-width="0.12">SQ.FT.</text>
<text x="13.0" y="712.3" font-family="Liberation Sans" font-size="6.6" font-weight="normal" font-style="normal" text-anchor="start" fill="#222" style="white-space:pre">ENTRY / PORCH:</text>
<text x="136.0" y="712.3" font-family="Liberation Sans" font-size="8.0" font-weight="bold" font-style="normal" text-anchor="end" fill="#222" style="white-space:pre" stroke="#222" stroke-width="0.18">99</text>
<text x="140.0" y="712.3" font-family="Liberation Sans" font-size="6.9" font-weight="normal" font-style="normal" text-anchor="start" fill="#222" style="white-space:pre" textLength="20.5" lengthAdjust="spacingAndGlyphs" stroke="#222" stroke-width="0.12">SQ.FT.</text>
<text x="13.0" y="720.0" font-family="Liberation Sans" font-size="6.6" font-weight="normal" font-style="normal" text-anchor="start" fill="#222" style="white-space:pre">MISC:</text>
<text x="136.0" y="720.0" font-family="Liberation Sans" font-size="8.0" font-weight="bold" font-style="normal" text-anchor="end" fill="#222" style="white-space:pre" stroke="#222" stroke-width="0.18">0</text>
<text x="140.0" y="720.0" font-family="Liberation Sans" font-size="6.9" font-weight="normal" font-style="normal" text-anchor="start" fill="#222" style="white-space:pre" textLength="20.5" lengthAdjust="spacingAndGlyphs" stroke="#222" stroke-width="0.12">SQ.FT.</text>
<line x1="8.6" y1="723.4" x2="163.0" y2="723.4" stroke="#1a1a1a" stroke-width="1.2" stroke-linecap="butt"/>
<text x="13.0" y="730.8" font-family="Liberation Sans" font-size="6.9" font-weight="normal" font-style="normal" text-anchor="start" fill="#222" style="white-space:pre" stroke="#222" stroke-width="0.12">TOTAL LIVABLE :</text>
<text x="136.0" y="730.8" font-family="Liberation Sans" font-size="8.0" font-weight="bold" font-style="normal" text-anchor="end" fill="#222" style="white-space:pre" stroke="#222" stroke-width="0.18">2892</text>
<text x="140.0" y="730.8" font-family="Liberation Sans" font-size="6.9" font-weight="normal" font-style="normal" text-anchor="start" fill="#222" style="white-space:pre" textLength="20.5" lengthAdjust="spacingAndGlyphs" stroke="#222" stroke-width="0.12">SQ.FT.</text>
<text x="13.0" y="739.3" font-family="Liberation Sans" font-size="6.9" font-weight="normal" font-style="normal" text-anchor="start" fill="#222" style="white-space:pre" stroke="#222" stroke-width="0.12">TOTAL UNDER ROOF :</text>
<text x="136.0" y="739.3" font-family="Liberation Sans" font-size="8.0" font-weight="bold" font-style="normal" text-anchor="end" fill="#222" style="white-space:pre" stroke="#222" stroke-width="0.18">4507</text>
<text x="140.0" y="739.3" font-family="Liberation Sans" font-size="6.9" font-weight="normal" font-style="normal" text-anchor="start" fill="#222" style="white-space:pre" textLength="20.5" lengthAdjust="spacingAndGlyphs" stroke="#222" stroke-width="0.12">SQ.FT.</text>
<text x="13.0" y="747.8" font-family="Liberation Sans" font-size="6.9" font-weight="normal" font-style="normal" text-anchor="start" fill="#222" style="white-space:pre" stroke="#222" stroke-width="0.12">TOTAL 1st FLOOR FOOTPRINT:</text>
<text x="136.0" y="747.8" font-family="Liberation Sans" font-size="8.0" font-weight="bold" font-style="normal" text-anchor="end" fill="#222" style="white-space:pre" stroke="#222" stroke-width="0.18">4507</text>
<text x="140.0" y="747.8" font-family="Liberation Sans" font-size="6.9" font-weight="normal" font-style="normal" text-anchor="start" fill="#222" style="white-space:pre" textLength="20.5" lengthAdjust="spacingAndGlyphs" stroke="#222" stroke-width="0.12">SQ.FT.</text>
<text x="13.0" y="756.0" font-family="Liberation Sans" font-size="6.9" font-weight="normal" font-style="normal" text-anchor="start" fill="#222" style="white-space:pre" stroke="#222" stroke-width="0.12">LOT :</text>
<text x="136.0" y="756.0" font-family="Liberation Sans" font-size="8.0" font-weight="bold" font-style="normal" text-anchor="end" fill="#222" style="white-space:pre" stroke="#222" stroke-width="0.18">9000</text>
<text x="140.0" y="756.0" font-family="Liberation Sans" font-size="6.9" font-weight="normal" font-style="normal" text-anchor="start" fill="#222" style="white-space:pre" textLength="20.5" lengthAdjust="spacingAndGlyphs" stroke="#222" stroke-width="0.12">SQ.FT.</text>
<text x="13.0" y="764.4" font-family="Liberation Sans" font-size="6.9" font-weight="normal" font-style="normal" text-anchor="start" fill="#222" style="white-space:pre" stroke="#222" stroke-width="0.12">LOT COVERAGE :</text>
<text x="159.8" y="764.4" font-family="Liberation Sans" font-size="7.6" font-weight="bold" font-style="normal" text-anchor="end" fill="#222" style="white-space:pre" stroke="#222" stroke-width="0.12">50.1%</text>
<line x1="8.6" y1="767.9" x2="163.0" y2="767.9" stroke="#1a1a1a" stroke-width="1.2" stroke-linecap="butt"/>
<text x="13.0" y="775.8" font-family="Liberation Sans" font-size="6.9" font-weight="normal" font-style="normal" text-anchor="start" fill="#222" style="white-space:pre" textLength="72.5" lengthAdjust="spacingAndGlyphs" stroke="#222" stroke-width="0.12">SIDE FOR ELECTRICAL</text>
<rect x="89" y="772.8" width="4.2" height="1.6" fill="#222"/>
<text x="161.8" y="775.8" font-family="Liberation Sans" font-size="7.6" font-weight="bold" font-style="normal" text-anchor="end" fill="#222" style="white-space:pre" textLength="15.5" lengthAdjust="spacingAndGlyphs" stroke="#222" stroke-width="0.12">LEFT</text>
<line x1="8.6" y1="779.0" x2="163.0" y2="779.0" stroke="#1a1a1a" stroke-width="1.2" stroke-linecap="butt"/>
<text x="13.0" y="787.7" font-family="Liberation Sans" font-size="6.6" font-weight="normal" font-style="normal" text-anchor="start" fill="#222" style="white-space:pre">LINEAL FEET OF FENCE:</text>
<text x="145.8" y="787.7" font-family="Liberation Sans" font-size="8.0" font-weight="bold" font-style="normal" text-anchor="end" fill="#222" style="white-space:pre" stroke="#222" stroke-width="0.18">296</text>
<text x="149.5" y="787.7" font-family="Liberation Sans" font-size="6.9" font-weight="normal" font-style="normal" text-anchor="start" fill="#222" style="white-space:pre" textLength="11.5" lengthAdjust="spacingAndGlyphs" stroke="#222" stroke-width="0.12">L.F.</text>
<text x="13.0" y="795.7" font-family="Liberation Sans" font-size="6.6" font-weight="normal" font-style="normal" text-anchor="start" fill="#222" style="white-space:pre">TURF AREA:</text>
<text x="136.0" y="795.7" font-family="Liberation Sans" font-size="8.0" font-weight="bold" font-style="normal" text-anchor="end" fill="#222" style="white-space:pre" stroke="#222" stroke-width="0.18">735</text>
<text x="140.0" y="795.7" font-family="Liberation Sans" font-size="6.9" font-weight="normal" font-style="normal" text-anchor="start" fill="#222" style="white-space:pre" textLength="20.5" lengthAdjust="spacingAndGlyphs" stroke="#222" stroke-width="0.12">SQ.FT.</text>
<line x1="8.6" y1="798.8" x2="163.0" y2="798.8" stroke="#1a1a1a" stroke-width="1.2" stroke-linecap="butt"/>
<text x="13.0" y="807.0" font-family="Liberation Sans" font-size="6.9" font-weight="normal" font-style="normal" text-anchor="start" fill="#222" style="white-space:pre" textLength="88" lengthAdjust="spacingAndGlyphs" stroke="#222" stroke-width="0.12">FINISH FLOOR ELEVATION:</text>
<text x="159.8" y="807.0" font-family="Liberation Sans" font-size="8.0" font-weight="bold" font-style="normal" text-anchor="end" fill="#222" style="white-space:pre" stroke="#222" stroke-width="0.18">1030.29</text>
<text x="13.0" y="814.7" font-family="Liberation Sans" font-size="6.9" font-weight="normal" font-style="normal" text-anchor="start" fill="#222" style="white-space:pre" textLength="82" lengthAdjust="spacingAndGlyphs" stroke="#222" stroke-width="0.12">FINISH PAD ELEVATION:</text>
<text x="159.8" y="814.7" font-family="Liberation Sans" font-size="8.0" font-weight="bold" font-style="normal" text-anchor="end" fill="#222" style="white-space:pre" stroke="#222" stroke-width="0.18">1029.29</text>
<text x="4.8" y="798.8" font-family="Liberation Serif" font-size="21.5" font-weight="normal" font-style="normal" text-anchor="start" fill="#111" style="white-space:pre" textLength="50.5" lengthAdjust="spacing" stroke="#fff" stroke-width="2.4" paint-order="stroke">2026</text>
<text x="63.5" y="799.6" font-family="Liberation Serif" font-size="22.8" font-weight="normal" font-style="normal" text-anchor="start" fill="#111" style="white-space:pre" textLength="76" lengthAdjust="spacingAndGlyphs" stroke="#fff" stroke-width="2.4" paint-order="stroke">ARMLS</text>
<text x="4.8" y="798.8" font-family="Liberation Serif" font-size="21.5" font-weight="normal" font-style="normal" text-anchor="start" fill="#111" style="white-space:pre" textLength="50.5" lengthAdjust="spacing" stroke="#fff" stroke-width="0.15">2026</text>
<text x="63.5" y="799.6" font-family="Liberation Serif" font-size="22.8" font-weight="normal" font-style="normal" text-anchor="start" fill="#111" style="white-space:pre" textLength="76" lengthAdjust="spacingAndGlyphs" stroke="#fff" stroke-width="0.15">ARMLS</text>
</svg></div></body></html>
